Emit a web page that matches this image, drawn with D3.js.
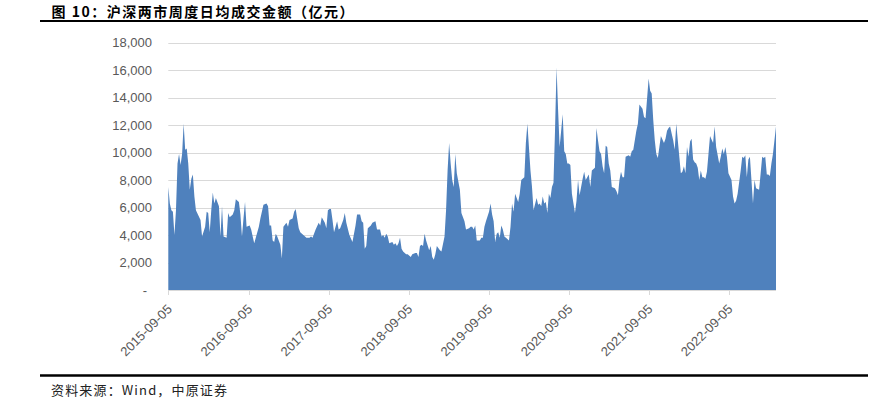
<!DOCTYPE html>
<html>
<head>
<meta charset="utf-8">
<script src="https://cdn.jsdelivr.net/npm/d3@7"></script>
<style>
  body { margin: 0; background: #fff; }
  text { font-family: "Liberation Sans", Arial, sans-serif; }
</style>
</head>
<body>
<svg id="chart" width="883" height="407"></svg>
<script>
// weekly average daily turnover, Shanghai + Shenzhen (100m yuan)
// weeks = weeks since 2015-09-05
const weeks = [
  0, 1, 2, 3, 4, 5, 6, 7, 8, 9, 10, 11, 12, 13, 14, 15, 16, 17, 18, 21, 22, 24, 25, 26, 27, 28, 29, 30, 31, 33,
  34, 35, 36, 38, 39, 40, 42, 43, 44, 46, 47, 48, 49, 50, 51, 53, 54, 55, 56, 59, 60, 62, 64, 65, 66, 67, 68, 69, 70, 71,
  73, 74, 75, 77, 78, 79, 81, 82, 83, 85, 86, 88, 90, 92, 93, 94, 96, 98, 99, 100, 102, 103, 104, 105,
  106, 107, 108, 110, 111, 112, 114, 115, 116, 118, 120, 122, 123, 125, 126, 127, 128, 129, 130, 132, 133, 135, 136, 138, 139, 140,
  141, 142, 143, 144, 146, 147, 148, 149, 150, 151, 152, 153, 155, 156, 158, 159, 161, 162, 163, 164, 165, 166, 167, 168, 170, 171,
  172, 173, 174, 175, 177, 178, 180, 181, 182, 183, 184, 185, 186, 187, 188, 190, 191, 193, 194, 196, 197, 198, 199, 200, 201, 203,
  204, 205, 206, 207, 209, 210,
  211, 212, 213, 214, 215, 216, 217, 218, 219, 220, 222, 223, 224, 225, 226, 228, 229, 230, 232, 233, 234, 235, 236, 237, 238, 240,
  241, 242, 243, 244, 245, 246, 247, 248, 249, 250, 251, 252, 253, 254, 255, 256, 257, 258, 259, 260, 261, 262, 263, 265, 266, 267,
  268, 269, 270, 271, 272, 273, 274, 275, 276, 278, 279, 280, 281, 282, 283, 284, 285, 286, 287, 288, 289, 291, 292, 293, 294, 295,
  296, 297, 298, 300, 301, 302, 303, 305, 306, 307, 309, 310, 311, 313,
  314, 315, 316, 317, 318, 319, 320, 321, 323, 324, 325, 326, 327, 328, 329, 330, 331, 332, 334, 335, 336, 337, 338, 339, 340, 341,
  342, 343, 344, 345, 346, 347, 348, 349, 350, 351, 352, 353, 355, 356, 357, 358, 359, 360, 361, 362, 363, 364, 365, 367, 368, 369,
  370, 371, 373, 374, 375, 376, 377, 378, 379, 380, 381, 382, 383, 385, 386, 387, 388, 389, 390, 391, 392, 393, 394, 395, 396
];
const turnover = [
  7500, 6300, 5800, 5700, 4000, 5800, 9200, 9900, 9100, 9900, 12100, 10200, 10300, 9200, 7300, 8100, 8400, 6800, 5800, 5100, 3900, 4600, 5700, 5600, 4200, 5800, 7100, 6300, 6700, 6100,
  3900, 6100, 3900, 3800, 5600, 5300, 5500, 5800, 6600, 6400, 5500, 3900, 5200, 6400, 4600, 4700, 4400, 3900, 3400, 4600, 5200, 6200, 6300, 6100, 4700, 4700, 3600, 3500, 4100, 3900,
  3300, 2300, 4600, 4900, 4600, 5100, 5200, 5700, 5900, 4500, 4200, 4000, 3800, 3800, 3900, 3800, 4400, 4900, 4700, 5300, 4900, 4500, 5800, 5900,
  5900, 5100, 4200, 5000, 4400, 4500, 5100, 5600, 4900, 4000, 3500, 4700, 5500, 5500, 5000, 4900, 3000, 3200, 4500, 4700, 4900, 5000, 4400, 4400, 3900, 4000,
  3800, 4100, 3900, 3400, 3500, 3300, 3400, 3200, 3400, 3800, 3000, 2800, 2600, 2600, 2400, 2600, 2700, 2700, 2400, 3200, 3300, 3200, 4100, 3600, 2900, 3200,
  2400, 2200, 2600, 3200, 2900, 2800, 3900, 5800, 8700, 10700, 9200, 8000, 7500, 9900, 8500, 7300, 5600, 5000, 4400, 4500, 4600, 4600, 4400, 4700, 3600, 3600,
  3800, 3800, 4600, 5000, 5700, 6300,
  5500, 5000, 3500, 4100, 4200, 3800, 4700, 4400, 3900, 3800, 3600, 4600, 6300, 5700, 7000, 6400, 7000, 8000, 8200, 10700, 12100, 10400, 8700, 7500, 5800, 6700,
  6200, 6300, 6100, 6800, 6300, 6400, 5600, 7000, 6700, 7500, 7800, 11600, 16200, 13100, 10400, 11600, 12800, 10100, 9900, 9200, 9200, 9100, 7000, 5600, 6500, 8000,
  6900, 7500, 8100, 8600, 8000, 8200, 8400, 7500, 8700, 8900, 11800, 10900, 10100, 9900, 9000, 8500, 10500, 10400, 9200, 8700, 7500, 7400, 7200, 6900, 8000, 8600,
  8200, 8200, 9700, 9800, 9700, 10100, 10200, 11600, 12100, 13500, 13200, 12600, 12500, 15400,
  14500, 14300, 12400, 10900, 9900, 9600, 10400, 11200, 10700, 11000, 11600, 11800, 11900, 11400, 10900, 10200, 12100, 10900, 8500, 8600, 9000, 8500, 10400, 9700, 10800, 11000,
  9500, 9300, 9200, 8900, 8000, 8700, 8200, 8200, 8100, 8600, 9900, 11200, 10700, 11900, 10400, 9800, 9200, 9700, 10300, 9900, 10400, 9700, 8500, 8000, 6800, 6300,
  6500, 7000, 8700, 9700, 9600, 9800, 8200, 9500, 9700, 8000, 6300, 8000, 7400, 7300, 8500, 9700, 9600, 9700, 8400, 8400, 8300, 9200, 9900, 10900, 11900
];
const yTicks = [0, 2000, 4000, 6000, 8000, 10000, 12000, 14000, 16000, 18000];
const tickLabels = ['2015-09-05', '2016-09-05', '2017-09-05', '2018-09-05', '2019-09-05', '2020-09-05', '2021-09-05', '2022-09-05'];
const titleText = '图 10：沪深两市周度日均成交金额（亿元）';
const sourceText = '资料来源：Wind，中原证券';

const svg = d3.select('#chart');
const parseDate = d3.timeParse('%Y-%m-%d');
const startDate = parseDate('2015-09-05');
const data = weeks.map((w, i) => ({ date: d3.timeDay.offset(startDate, w * 7), value: turnover[i] }));

const plot = { left: 168.3, right: 776, top: 42.7, bottom: 290 };

const x = d3.scaleTime()
    .domain([startDate, d3.timeDay.offset(startDate, d3.max(weeks) * 7)])
    .range([plot.left, plot.right]);
const y = d3.scaleLinear()
    .domain([0, 18000])
    .range([plot.bottom, plot.top]);

// title + rules
svg.append('text')
    .attr('x', 51.5)
    .attr('y', 16.5)
    .attr('textLength', 302)
    .attr('lengthAdjust', 'spacing')
    .style('font-family', '"Noto Sans CJK SC", sans-serif')
    .style('font-weight', 'bold')
    .style('font-size', '14px')
    .attr('fill', '#000')
    .text(titleText);

svg.append('line')
    .attr('x1', 40).attr('x2', 868)
    .attr('y1', 21).attr('y2', 21)
    .attr('stroke', '#000')
    .attr('stroke-width', 2);

svg.append('line')
    .attr('x1', 40).attr('x2', 868)
    .attr('y1', 375.5).attr('y2', 375.5)
    .attr('stroke', '#000')
    .attr('stroke-width', 2.5);

svg.append('text')
    .attr('x', 51)
    .attr('y', 394.5)
    .attr('textLength', 176)
    .attr('lengthAdjust', 'spacing')
    .style('font-family', '"Noto Sans CJK SC", sans-serif')
    .style('font-size', '13px')
    .attr('fill', '#222')
    .text(sourceText);

// gridlines
svg.append('g')
    .selectAll('line')
    .data(yTicks.filter(d => d > 0))
    .join('line')
    .attr('x1', plot.left).attr('x2', plot.right)
    .attr('y1', d => Math.round(y(d)) + 0.5)
    .attr('y2', d => Math.round(y(d)) + 0.5)
    .attr('stroke', '#d9d9d9')
    .attr('stroke-width', 1);

// y labels
svg.append('g')
    .selectAll('text')
    .data(yTicks)
    .join('text')
    .attr('x', d => d === 0 ? 147 : 152)
    .attr('y', d => y(d))
    .attr('dy', '0.35em')
    .attr('text-anchor', 'end')
    .style('font-size', '13px')
    .attr('fill', '#595959')
    .text(d => d === 0 ? '-' : d3.format(',')(d));

// area
const area = d3.area()
    .x(d => x(d.date))
    .y0(y(0))
    .y1(d => y(d.value));

svg.append('path')
    .datum(data)
    .attr('d', area)
    .attr('fill', '#4f81bd');

// x axis line + ticks
svg.append('line')
    .attr('x1', plot.left).attr('x2', plot.right)
    .attr('y1', plot.bottom + 0.5).attr('y2', plot.bottom + 0.5)
    .attr('stroke', '#d9d9d9');

const tickDates = tickLabels.map(parseDate);

svg.append('g')
    .selectAll('line')
    .data(tickDates)
    .join('line')
    .attr('x1', d => Math.round(x(d)) + 0.5)
    .attr('x2', d => Math.round(x(d)) + 0.5)
    .attr('y1', plot.bottom)
    .attr('y2', plot.bottom + 5)
    .attr('stroke', '#d9d9d9');

svg.append('g')
    .selectAll('text')
    .data(tickDates)
    .join('text')
    .attr('transform', d => `translate(${x(d) + 4.5},310) rotate(-45)`)
    .attr('text-anchor', 'end')
    .style('font-size', '13px')
    .attr('fill', '#595959')
    .text((d, i) => tickLabels[i]);
</script>
</body>
</html>
